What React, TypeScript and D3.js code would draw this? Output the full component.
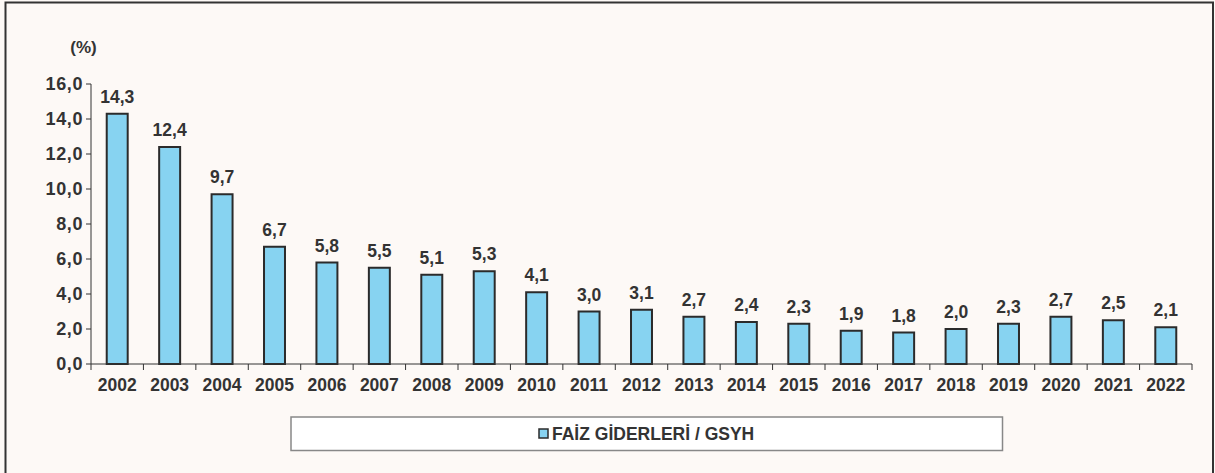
import React from "react";
import * as d3 from "d3";

const years = ["2002","2003","2004","2005","2006","2007","2008","2009","2010","2011","2012","2013","2014","2015","2016","2017","2018","2019","2020","2021","2022"];
const values = [14.3,12.4,9.7,6.7,5.8,5.5,5.1,5.3,4.1,3.0,3.1,2.7,2.4,2.3,1.9,1.8,2.0,2.3,2.7,2.5,2.1];
const yTicks = [0,2,4,6,8,10,12,14,16];
const seriesName = "FAİZ GİDERLERİ / GSYH";
const unitLabel = "(%)";

const W = 1215, H = 473;
const plotLeft = 91, plotRight = 1192, plotTop = 84, plotBottom = 364;
const font = "'Liberation Sans', Arial, sans-serif";
const textColor = "#333333";
const barFill = "#87d3f1";
const barStroke = "#2b2b2b";

const fmt = (v: number) => v.toFixed(1).replace(".", ",");

export default function App() {
  const x = d3.scaleBand<string>().domain(years).range([plotLeft, plotRight]).paddingInner(0.6).paddingOuter(0.3);
  const xTicks = d3.scaleBand<string>().domain(years).range([plotLeft, plotRight]);
  const y = d3.scaleLinear().domain([0, 16]).range([plotBottom, plotTop]);

  return (
    <svg width={W} height={H} style={{ position: "absolute", left: 0, top: 0, display: "block" }} fontFamily={font}>
      <rect x={0} y={0} width={W} height={H} fill="#fdf9f6" />
      <rect x={5.5} y={2.5} width={1207.5} height={H + 10} fill="none" stroke="#333" strokeWidth={2} />

      <text x={83.5} y={47} dy="0.36em" textAnchor="middle" fontSize={17} fontWeight="bold" fill={textColor}>{unitLabel}</text>

      {/* y axis */}
      <line x1={plotLeft} x2={plotLeft} y1={y(16)} y2={plotBottom} stroke="#333" strokeWidth={1} />
      {yTicks.map((t) => (
        <g key={t}>
          <line x1={plotLeft - 5} x2={plotLeft} y1={y(t)} y2={y(t)} stroke="#333" strokeWidth={1} />
          <text x={83} y={y(t)} dy="0.36em" textAnchor="end" fontSize={18} fontWeight="bold" fill={textColor} letterSpacing={0.6}>{fmt(t)}</text>
        </g>
      ))}

      {/* bars */}
      {years.map((yr, i) => {
        const bx = x(yr)!;
        const bw = x.bandwidth();
        const v = values[i];
        return (
          <g key={yr}>
            <rect x={bx} y={y(v)} width={bw} height={plotBottom - y(v)} fill={barFill} stroke={barStroke} strokeWidth={2} />
            <text x={bx + bw / 2} y={y(v) - 11} textAnchor="middle" fontSize={17.5} fontWeight="bold" fill={textColor}>{fmt(v)}</text>
          </g>
        );
      })}

      {/* x axis */}
      <line x1={plotLeft} x2={plotRight} y1={plotBottom} y2={plotBottom} stroke="#333" strokeWidth={1} />
      {years.map((yr) => (
        <line key={"t" + yr} x1={xTicks(yr)! + xTicks.bandwidth()} x2={xTicks(yr)! + xTicks.bandwidth()} y1={plotBottom} y2={plotBottom + 6} stroke="#333" strokeWidth={1} />
      ))}
      <line x1={plotLeft} x2={plotLeft} y1={plotBottom} y2={plotBottom + 6} stroke="#333" strokeWidth={1} />
      {years.map((yr) => (
        <text key={"l" + yr} x={xTicks(yr)! + xTicks.bandwidth() / 2} y={385} dy="0.36em" textAnchor="middle" fontSize={17.5} fontWeight="bold" fill={textColor}>{yr}</text>
      ))}

      {/* legend */}
      <rect x={291} y={417} width={711.5} height={33.5} fill="#ffffff" stroke="#888" strokeWidth={1.5} />
      <rect x={539} y={429} width={9} height={9} fill={barFill} stroke={barStroke} strokeWidth={1.5} />
      <text x={552} y={434} dy="0.36em" fontSize={17.5} fontWeight="bold" fill={textColor}>{seriesName}</text>
    </svg>
  );
}
